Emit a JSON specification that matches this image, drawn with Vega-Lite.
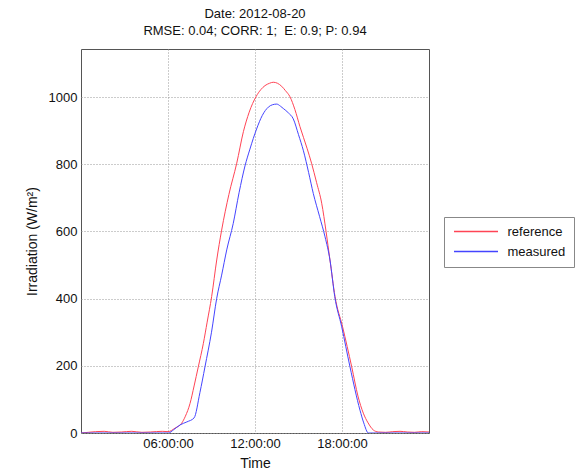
{
  "$schema": "https://vega.github.io/schema/vega-lite/v6.json",
  "autosize": "none",
  "width": 348,
  "height": 384,
  "padding": {"left": 81, "top": 49, "right": 151, "bottom": 39},
  "background": "white",
  "config": {
    "font": "Liberation Sans",
    "view": {"stroke": "#555", "strokeWidth": 1}
  },
  "title": {
    "text": ["Date: 2012-08-20", "RMSE: 0.04; CORR: 1; \u00a0E: 0.9; P: 0.94"],
    "font": "Liberation Sans",
    "fontSize": 13,
    "fontWeight": "normal",
    "color": "#111",
    "anchor": "middle",
    "offset": 11,
    "lineHeight": 17
  },
  "data": {
    "values": [
      {"t": 0, "v": 0, "s": "reference"},
      {"t": 0.5, "v": 2, "s": "reference"},
      {"t": 1, "v": 4, "s": "reference"},
      {"t": 1.6, "v": 5, "s": "reference"},
      {"t": 2.2, "v": 2, "s": "reference"},
      {"t": 2.8, "v": 3, "s": "reference"},
      {"t": 3.5, "v": 5, "s": "reference"},
      {"t": 4.2, "v": 2, "s": "reference"},
      {"t": 4.8, "v": 3, "s": "reference"},
      {"t": 5.6, "v": 5, "s": "reference"},
      {"t": 6, "v": 4, "s": "reference"},
      {"t": 6.5, "v": 15, "s": "reference"},
      {"t": 6.94, "v": 29, "s": "reference"},
      {"t": 7.2, "v": 50, "s": "reference"},
      {"t": 7.52, "v": 88, "s": "reference"},
      {"t": 7.8, "v": 140, "s": "reference"},
      {"t": 8.09, "v": 197, "s": "reference"},
      {"t": 8.44, "v": 267, "s": "reference"},
      {"t": 8.7, "v": 330, "s": "reference"},
      {"t": 9.01, "v": 406, "s": "reference"},
      {"t": 9.36, "v": 515, "s": "reference"},
      {"t": 9.7, "v": 604, "s": "reference"},
      {"t": 10.2, "v": 710, "s": "reference"},
      {"t": 10.74, "v": 803, "s": "reference"},
      {"t": 11.2, "v": 897, "s": "reference"},
      {"t": 11.6, "v": 955, "s": "reference"},
      {"t": 12.07, "v": 1001, "s": "reference"},
      {"t": 12.4, "v": 1022, "s": "reference"},
      {"t": 12.69, "v": 1034, "s": "reference"},
      {"t": 13.0, "v": 1041, "s": "reference"},
      {"t": 13.26, "v": 1044, "s": "reference"},
      {"t": 13.55, "v": 1041, "s": "reference"},
      {"t": 13.84, "v": 1032, "s": "reference"},
      {"t": 14.1, "v": 1019, "s": "reference"},
      {"t": 14.41, "v": 1001, "s": "reference"},
      {"t": 14.75, "v": 963, "s": "reference"},
      {"t": 15.1, "v": 912, "s": "reference"},
      {"t": 15.6, "v": 846, "s": "reference"},
      {"t": 15.9, "v": 803, "s": "reference"},
      {"t": 16.25, "v": 745, "s": "reference"},
      {"t": 16.6, "v": 684, "s": "reference"},
      {"t": 16.9, "v": 600, "s": "reference"},
      {"t": 17.17, "v": 515, "s": "reference"},
      {"t": 17.52, "v": 406, "s": "reference"},
      {"t": 18.04, "v": 316, "s": "reference"},
      {"t": 18.67, "v": 197, "s": "reference"},
      {"t": 19.1, "v": 110, "s": "reference"},
      {"t": 19.47, "v": 59, "s": "reference"},
      {"t": 19.8, "v": 30, "s": "reference"},
      {"t": 20.16, "v": 9, "s": "reference"},
      {"t": 20.5, "v": 3, "s": "reference"},
      {"t": 21, "v": 2, "s": "reference"},
      {"t": 21.5, "v": 4, "s": "reference"},
      {"t": 22, "v": 5, "s": "reference"},
      {"t": 22.5, "v": 3, "s": "reference"},
      {"t": 23, "v": 2, "s": "reference"},
      {"t": 23.5, "v": 4, "s": "reference"},
      {"t": 24, "v": 3, "s": "reference"},
      {"t": 0, "v": 0, "s": "measured"},
      {"t": 6.02, "v": 0, "s": "measured"},
      {"t": 6.4, "v": 10, "s": "measured"},
      {"t": 6.83, "v": 24, "s": "measured"},
      {"t": 7.3, "v": 33, "s": "measured"},
      {"t": 7.8, "v": 45, "s": "measured"},
      {"t": 8.2, "v": 120, "s": "measured"},
      {"t": 8.55, "v": 197, "s": "measured"},
      {"t": 9.0, "v": 300, "s": "measured"},
      {"t": 9.36, "v": 401, "s": "measured"},
      {"t": 9.7, "v": 470, "s": "measured"},
      {"t": 10.05, "v": 545, "s": "measured"},
      {"t": 10.5, "v": 624, "s": "measured"},
      {"t": 10.9, "v": 715, "s": "measured"},
      {"t": 11.31, "v": 795, "s": "measured"},
      {"t": 11.65, "v": 845, "s": "measured"},
      {"t": 12.11, "v": 905, "s": "measured"},
      {"t": 12.5, "v": 945, "s": "measured"},
      {"t": 12.92, "v": 970, "s": "measured"},
      {"t": 13.2, "v": 977, "s": "measured"},
      {"t": 13.5, "v": 979, "s": "measured"},
      {"t": 13.75, "v": 973, "s": "measured"},
      {"t": 13.95, "v": 966, "s": "measured"},
      {"t": 14.3, "v": 953, "s": "measured"},
      {"t": 14.64, "v": 935, "s": "measured"},
      {"t": 15.0, "v": 888, "s": "measured"},
      {"t": 15.34, "v": 840, "s": "measured"},
      {"t": 15.7, "v": 775, "s": "measured"},
      {"t": 16.02, "v": 713, "s": "measured"},
      {"t": 16.45, "v": 645, "s": "measured"},
      {"t": 16.83, "v": 584, "s": "measured"},
      {"t": 17.17, "v": 515, "s": "measured"},
      {"t": 17.5, "v": 406, "s": "measured"},
      {"t": 17.98, "v": 316, "s": "measured"},
      {"t": 18.55, "v": 197, "s": "measured"},
      {"t": 19.24, "v": 68, "s": "measured"},
      {"t": 19.5, "v": 30, "s": "measured"},
      {"t": 19.82, "v": 0, "s": "measured"},
      {"t": 24, "v": 0, "s": "measured"}
    ]
  },
  "mark": {"type": "line", "strokeWidth": 1, "clip": true, "interpolate": "monotone"},
  "encoding": {
    "x": {
      "field": "t",
      "type": "quantitative",
      "scale": {"domain": [0, 24], "nice": false, "zero": false},
      "axis": {
        "title": "Time",
        "titleFont": "Liberation Sans",
        "titleFontSize": 14,
        "titleFontWeight": "normal",
        "titleColor": "#111",
        "titlePadding": 6,
        "values": [6, 12, 18],
        "labelExpr": "(datum.value < 10 ? '0' : '') + datum.value + ':00:00'",
        "labelFont": "Liberation Sans",
        "labelFontSize": 13,
        "labelColor": "#111",
        "labelPadding": 4,
        "ticks": false,
        "domain": false,
        "grid": true,
        "gridColor": "#999",
        "gridDash": [1, 2],
        "gridWidth": 1
      }
    },
    "y": {
      "field": "v",
      "type": "quantitative",
      "scale": {"domain": [0, 1143], "nice": false},
      "axis": {
        "title": "Irradiation (W/m²)",
        "titleFont": "Liberation Sans",
        "titleFontSize": 14,
        "titleFontWeight": "normal",
        "titleColor": "#111",
        "titlePadding": 9,
        "values": [0, 200, 400, 600, 800, 1000],
        "format": "d",
        "labelFont": "Liberation Sans",
        "labelFontSize": 13,
        "labelColor": "#111",
        "labelPadding": 4,
        "ticks": false,
        "domain": false,
        "grid": true,
        "gridColor": "#999",
        "gridDash": [1, 2],
        "gridWidth": 1
      }
    },
    "color": {
      "field": "s",
      "type": "nominal",
      "sort": ["reference", "measured"],
      "scale": {"domain": ["reference", "measured"], "range": ["#ff4455", "#4444ff"]},
      "legend": {
        "title": null,
        "orient": "none",
        "legendX": 363,
        "legendY": 168,
        "symbolType": "M-4,0H4",
        "symbolSize": 121,
        "symbolOffset": 17.5,
        "symbolStrokeWidth": 1.3,
        "labelOffset": 25,
        "labelFont": "Liberation Sans",
        "labelFontSize": 13,
        "labelColor": "#111",
        "rowPadding": 6,
        "padding": 8,
        "fillColor": "white",
        "encode": {
          "legend": {
            "update": {
              "stroke": {"value": "#888"},
              "strokeWidth": {"value": 1}
            }
          },
          "symbols": {
            "update": {
              "stroke": {"signal": "scale('color', datum.value)"},
              "fill": {"value": "transparent"},
              "opacity": {"value": 1},
              "strokeOpacity": {"value": 1}
            }
          }
        }
      }
    }
  }
}
